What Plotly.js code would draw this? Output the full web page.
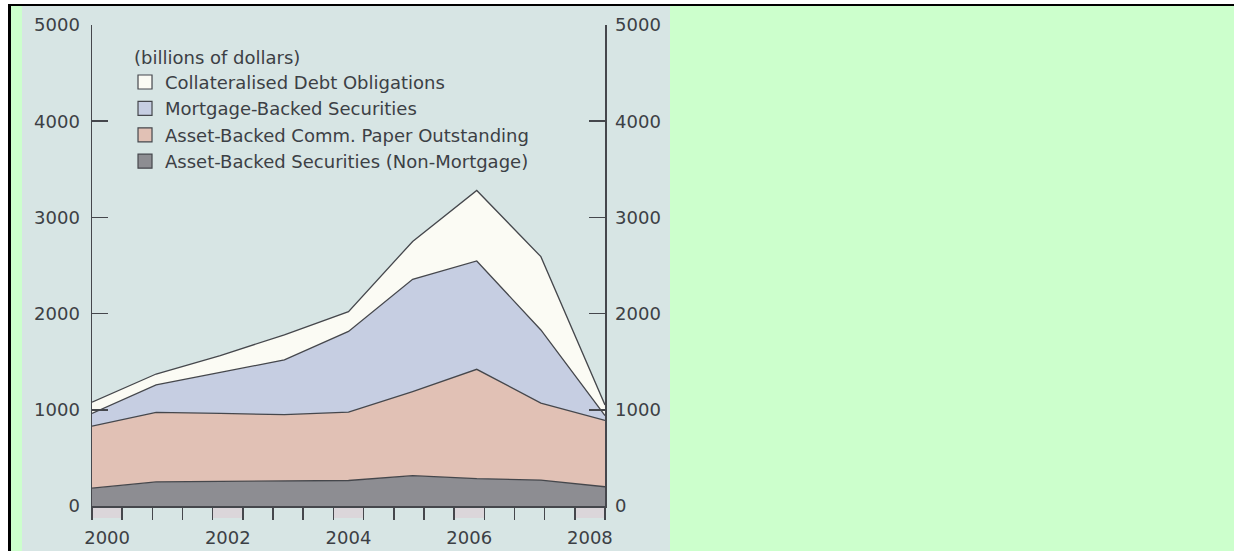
<!DOCTYPE html>
<html>
<head>
<meta charset="utf-8">
<script src="https://cdn.plot.ly/plotly-3.0.1.min.js"></script>
<style>
  html, body { margin: 0; padding: 0; background: #ffffff; width: 1234px; height: 551px; overflow: hidden; }
  #frame { position: absolute; left: 8px; top: 4px; width: 1226px; height: 547px;
           border-top: 2px solid #000; border-left: 3px solid #000; background: #ccffcc; box-sizing: border-box; }
  #chart { position: absolute; left: 22px; top: 6px; width: 648px; height: 545px; background: #d7e5e4; }
</style>
</head>
<body>
<div id="frame"></div>
<div id="chart"></div>
<script>
// ---- data (billions of dollars) ----
const years = [2000, 2001, 2002, 2003, 2004, 2005, 2006, 2007, 2008];
const absNonMortgage = [185, 250, 255, 260, 265, 315, 285, 270, 200];
const abcpOutstanding = [645, 724, 707, 690, 710, 875, 1136, 800, 690];
const mortgageBacked = [133, 284, 426, 570, 840, 1167, 1126, 760, 50];
const collateralisedDebt = [117, 114, 176, 260, 205, 393, 733, 762, 110];

const seriesNames = [
  "Asset-Backed Securities (Non-Mortgage)",
  "Asset-Backed Comm. Paper Outstanding",
  "Mortgage-Backed Securities",
  "Collateralised Debt Obligations"
];
const seriesColors = ["#8d8d92", "#e1c1b5", "#c6cee2", "#fbfbf4"];
const tickLabelYears = [2000, 2002, 2004, 2006, 2008];
const yTicks = [0, 1000, 2000, 3000, 4000, 5000];

const ink = "#3c4045";
const lineInk = "#45474c";
const FONT = "DejaVu Sans, Arial, sans-serif";
const FS = 18;

const seriesValues = [absNonMortgage, abcpOutstanding, mortgageBacked, collateralisedDebt];

const traces = [];
seriesValues.forEach((vals, i) => {
  traces.push({
    type: "scatter", mode: "lines", x: years, y: vals,
    stackgroup: "one", fillcolor: seriesColors[i],
    line: { color: lineInk, width: 1.3 },
    name: seriesNames[i], showlegend: false, hoverinfo: "x+y+name"
  });
});
// legend entries (square swatches), top-to-bottom: CDO, MBS, ABCP, ABS
const legendAxes = [["x", "y"], ["x", "y"], ["x2", "y"], ["x3", "y2"]];
for (let i = 3; i >= 0; i--) {
  const ax = legendAxes[i];
  traces.push({
    type: "scatter", mode: "markers", x: [null], y: [null],
    xaxis: ax[0], yaxis: ax[1],
    name: seriesNames[i], showlegend: true, legendrank: 4 - i,
    marker: { symbol: "square", size: 14, color: seriesColors[i], line: { color: lineInk, width: 1.2 } },
    hoverinfo: "skip"
  });
}

const shapes = tickLabelYears.map(yr => ({
  type: "rect", xref: "x2", yref: "paper", layer: "below",
  x0: yr, x1: yr + 0.5, y0: 0, y1: -0.025,
  fillcolor: "#dbd6da", line: { width: 0 }
}));

const layout = {
  width: 648, height: 545,
  margin: { l: 70, r: 65, t: 19, b: 45, pad: 0, autoexpand: false },
  paper_bgcolor: "rgba(0,0,0,0)", plot_bgcolor: "rgba(0,0,0,0)",
  font: { family: FONT, size: FS, color: ink },
  showlegend: true,
  legend: {
    x: 0.078, y: 0.968, xanchor: "left", yanchor: "top", indentation: -7,
    bgcolor: "rgba(0,0,0,0)", borderwidth: 0, traceorder: "normal",
    font: { family: FONT, size: FS, color: ink },
    title: { text: "(billions of dollars)", side: "top", font: { family: FONT, size: FS, color: ink } }
  },
  xaxis: {
    range: [2000, 2008], showgrid: false, zeroline: false, showline: false,
    showticklabels: false, ticks: "", fixedrange: true
  },
  xaxis2: {
    overlaying: "x", anchor: "y", range: [2000, 2008.5], showgrid: false, zeroline: false,
    showline: true, linecolor: lineInk, linewidth: 1.5,
    ticks: "outside", ticklen: 12, tickwidth: 1.5, tickcolor: lineInk,
    tickmode: "linear", tick0: 2000, dtick: 0.5, showticklabels: false
  },
  xaxis3: {
    overlaying: "x", anchor: "y", range: [2000, 2008.5], showgrid: false, zeroline: false,
    showline: false, ticks: "outside", ticklen: 12, tickcolor: "rgba(0,0,0,0)",
    tickmode: "array", tickvals: tickLabelYears.map(y => y + 0.25), tickangle: 0,
    ticktext: tickLabelYears.map(String), ticklabelstandoff: 3,
    tickfont: { family: FONT, size: FS, color: ink }
  },
  yaxis: {
    range: [0, 5000], showgrid: false, zeroline: false,
    showline: true, linecolor: lineInk, linewidth: 1.5,
    ticks: "inside", ticklen: 16, tickwidth: 1.5, tickcolor: lineInk,
    tickmode: "array", tickvals: yTicks, ticktext: yTicks.map(String),
    ticklabelstandoff: 7, tickfont: { family: FONT, size: FS, color: ink }
  },
  yaxis2: {
    overlaying: "y", side: "right", anchor: "x", range: [0, 5000], showgrid: false, zeroline: false,
    showline: true, linecolor: lineInk, linewidth: 1.5,
    ticks: "inside", ticklen: 16, tickwidth: 1.5, tickcolor: lineInk,
    tickmode: "array", tickvals: yTicks, ticktext: yTicks.map(String),
    ticklabelstandoff: 5, tickfont: { family: FONT, size: FS, color: ink }
  },
  shapes: shapes
};

Plotly.newPlot("chart", traces, layout, { displayModeBar: false, staticPlot: true });
</script>
</body>
</html>
